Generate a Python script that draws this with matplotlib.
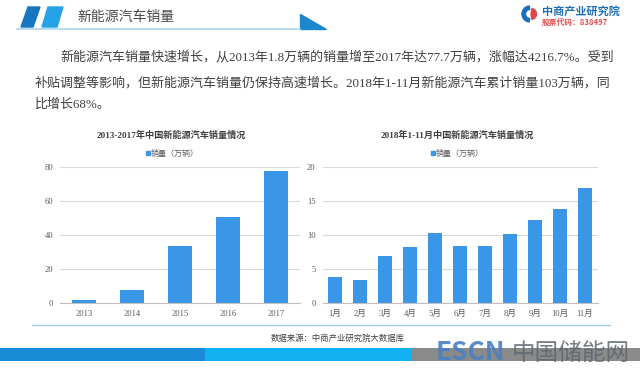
import numpy as np
import matplotlib.pyplot as plt
import matplotlib.patches as patches

# data
years = ['2013', '2014', '2015', '2016', '2017']
sales_year = [1.8, 7.5, 33.1, 50.7, 77.7]
months = ['1月', '2月', '3月', '4月', '5月', '6月', '7月', '8月', '9月', '10月', '11月']
sales_month = [3.8, 3.4, 6.8, 8.2, 10.2, 8.4, 8.4, 10.1, 12.1, 13.8, 16.9]

left_title = '2013-2017年中国新能源汽车销量情况'
right_title = '2018年1-11月中国新能源汽车销量情况'
legend_label = '销量（万辆）'
para = ['新能源汽车销量快速增长，从2013年1.8万辆的销量增至2017年达77.7万辆，涨幅达4216.7%。受到',
        '补贴调整等影响，但新能源汽车销量仍保持高速增长。2018年1-11月新能源汽车累计销量103万辆，同',
        '比增长68%。']

W, H = 640, 369
sans = ['Noto Sans CJK SC', 'DejaVu Sans']
serif = ['Liberation Serif', 'Noto Sans CJK SC', 'DejaVu Sans']
plt.rcParams['font.family'] = sans

bar_color = '#3a96e6'
tick_color = '#595959'

fig = plt.figure(figsize=(6.4, 3.69), dpi=100)

# background layer in pixel coordinates (y down)
bg = fig.add_axes([0, 0, 1, 1])
bg.set_xlim(0, W)
bg.set_ylim(H, 0)
bg.axis('off')

# header
bg.add_patch(patches.Polygon([(28, 7), (40, 7), (33, 27), (21, 27)], color='#1676c2'))
bg.add_patch(patches.Polygon([(48, 7), (63, 7), (57, 27), (42, 27)], color='#26a3e6'))
bg.text(77, 17, '新能源汽车销量', fontsize=10, color='#4a4a4a', va='center', ha='left')
bg.plot([17, 300], [28.5, 28.5], color='#a8d6ec', lw=1.2)
bg.add_patch(patches.Polygon([(300, 14), (300, 28.5), (326, 28.5)], color='#1b87cf'))

# logo
bg.add_patch(patches.Wedge((530, 14), 8, 95, 265, width=3.5, color='#1b6fba'))
bg.add_patch(patches.Wedge((531, 14), 5.5, -80, 80, color='#e04848'))
bg.text(542, 11, '中商产业研究院', fontsize=8, fontweight='bold', color='#1d6fb8', va='center')
bg.text(542, 22.5, '股票代码：838497', fontsize=5.6, fontweight='bold', color='#e05050', va='center')

# paragraph
bg.text(60, 57, para[0], fontsize=9.35, color='#404040', va='center', family=serif)
bg.text(35, 83, para[1], fontsize=9.35, color='#404040', va='center', family=serif)
bg.text(35, 105, para[2], fontsize=9.35, color='#404040', va='center', family=serif)

# chart titles and legends
bg.text(171, 135, left_title, fontsize=6.6, fontweight='bold', color='#404040', ha='center', va='center', family=serif)
bg.text(457, 135, right_title, fontsize=6.6, fontweight='bold', color='#404040', ha='center', va='center', family=serif)
for lx in (146, 431):
    bg.add_patch(patches.Rectangle((lx, 150.5), 4, 4, color=bar_color))
    bg.text(lx + 5, 153, legend_label, fontsize=5.8, color=tick_color, va='center')

# bottom line, source, footer bars
bg.plot([32, 610], [324.5, 324.5], color='#a9c9e3', lw=1)
bg.text(338, 338, '数据来源：中商产业研究院大数据库', fontsize=6, color='#404040', ha='center', va='center')
bg.add_patch(patches.Rectangle((0, 348), 205, 13, color='#1a8bd6', lw=0))
bg.add_patch(patches.Rectangle((205, 348), 207, 13, color='#12b2f2', lw=0))
bg.add_patch(patches.Rectangle((412, 348), 228, 13, color='#8a8a8a', lw=0))
bg.text(436, 353, 'ESCN', fontsize=19, fontweight='bold', color='#4a80c0', va='center', alpha=0.9)
bg.text(512, 353, '中国储能网', fontsize=17, color='#5e6670', va='center', alpha=0.85)


def style_axes(ax, ymax, step):
    ax.set_facecolor('none')
    ax.set_ylim(0, ymax)
    ax.set_yticks(np.arange(0, ymax + 1, step))
    ax.grid(axis='y', color='#d9d9d9', lw=0.8)
    ax.set_axisbelow(True)
    for s in ['top', 'right', 'left']:
        ax.spines[s].set_visible(False)
    ax.spines['bottom'].set_color('#bfbfbf')
    ax.tick_params(length=0, labelsize=6.2, colors=tick_color, pad=5)
    for lab in ax.get_xticklabels() + ax.get_yticklabels():
        lab.set_family(serif)


# left chart
ax1 = fig.add_axes([60 / W, 1 - 302.7 / H, 240 / W, 136 / H])
ax1.bar(range(len(years)), sales_year, width=0.52, color=bar_color)
ax1.set_xticks(range(len(years)))
ax1.set_xticklabels(years)
ax1.set_xlim(-0.5, len(years) - 0.5)
style_axes(ax1, 80, 20)

# right chart
ax2 = fig.add_axes([322.5 / W, 1 - 302.7 / H, 275 / W, 136 / H])
ax2.bar(range(len(months)), sales_month, width=0.56, color=bar_color)
ax2.set_xticks(range(len(months)))
ax2.set_xticklabels(months)
ax2.set_xlim(-0.5, len(months) - 0.5)
style_axes(ax2, 20, 5)

fig.savefig('out.png', dpi=100)
